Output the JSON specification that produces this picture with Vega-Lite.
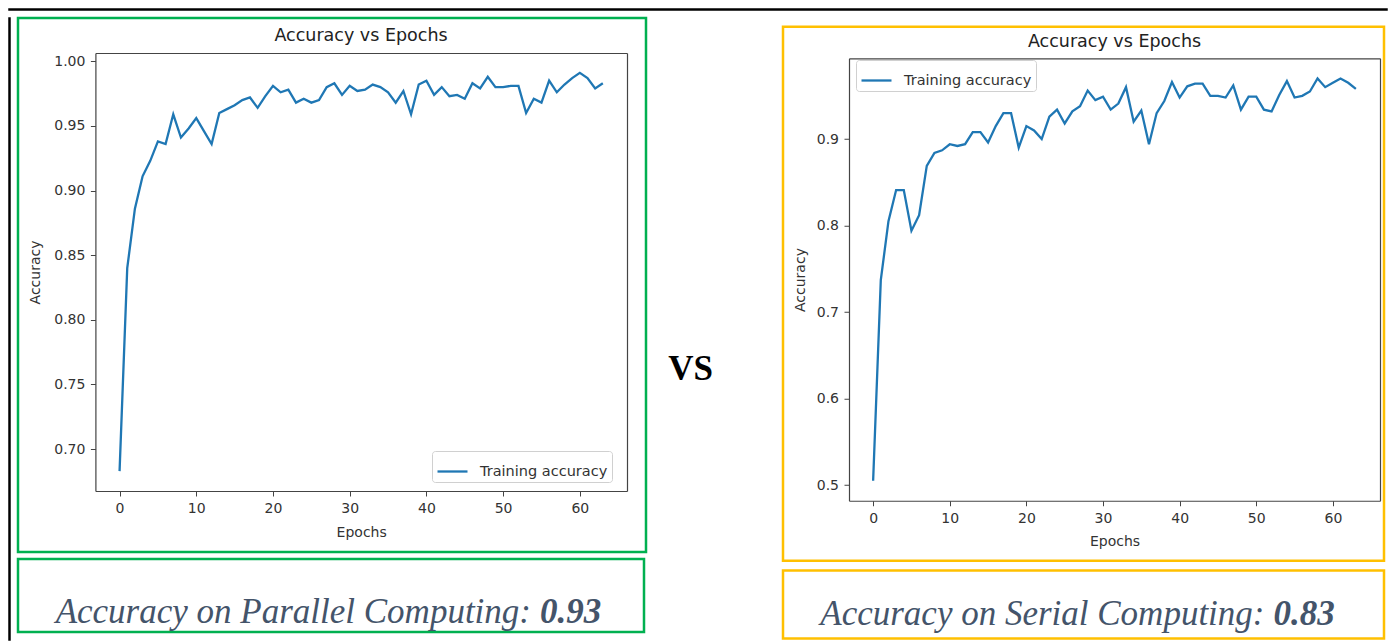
{
  "$schema": "https://vega.github.io/schema/vega-lite/v6.json",
  "background": "white",
  "padding": {"left": 8, "top": 8, "right": 0, "bottom": 0},
  "config": {"view": {"stroke": null}, "font": "DejaVu Sans"},
  "datasets": {
    "parallel": [
      {"epoch": 0, "accuracy": 0.683}, {"epoch": 1, "accuracy": 0.840}, {"epoch": 2, "accuracy": 0.886}, {"epoch": 3, "accuracy": 0.911},
      {"epoch": 4, "accuracy": 0.923}, {"epoch": 5, "accuracy": 0.938}, {"epoch": 6, "accuracy": 0.936}, {"epoch": 7, "accuracy": 0.959},
      {"epoch": 8, "accuracy": 0.941}, {"epoch": 9, "accuracy": 0.948}, {"epoch": 10, "accuracy": 0.956}, {"epoch": 11, "accuracy": 0.946},
      {"epoch": 12, "accuracy": 0.936}, {"epoch": 13, "accuracy": 0.960}, {"epoch": 14, "accuracy": 0.963}, {"epoch": 15, "accuracy": 0.966},
      {"epoch": 16, "accuracy": 0.970}, {"epoch": 17, "accuracy": 0.972}, {"epoch": 18, "accuracy": 0.964}, {"epoch": 19, "accuracy": 0.973},
      {"epoch": 20, "accuracy": 0.981}, {"epoch": 21, "accuracy": 0.976}, {"epoch": 22, "accuracy": 0.978}, {"epoch": 23, "accuracy": 0.968},
      {"epoch": 24, "accuracy": 0.971}, {"epoch": 25, "accuracy": 0.968}, {"epoch": 26, "accuracy": 0.970}, {"epoch": 27, "accuracy": 0.980},
      {"epoch": 28, "accuracy": 0.983}, {"epoch": 29, "accuracy": 0.974}, {"epoch": 30, "accuracy": 0.981}, {"epoch": 31, "accuracy": 0.977},
      {"epoch": 32, "accuracy": 0.978}, {"epoch": 33, "accuracy": 0.982}, {"epoch": 34, "accuracy": 0.980}, {"epoch": 35, "accuracy": 0.976},
      {"epoch": 36, "accuracy": 0.968}, {"epoch": 37, "accuracy": 0.977}, {"epoch": 38, "accuracy": 0.959}, {"epoch": 39, "accuracy": 0.982},
      {"epoch": 40, "accuracy": 0.985}, {"epoch": 41, "accuracy": 0.974}, {"epoch": 42, "accuracy": 0.980}, {"epoch": 43, "accuracy": 0.973},
      {"epoch": 44, "accuracy": 0.974}, {"epoch": 45, "accuracy": 0.971}, {"epoch": 46, "accuracy": 0.983}, {"epoch": 47, "accuracy": 0.979},
      {"epoch": 48, "accuracy": 0.988}, {"epoch": 49, "accuracy": 0.980}, {"epoch": 50, "accuracy": 0.980}, {"epoch": 51, "accuracy": 0.981},
      {"epoch": 52, "accuracy": 0.981}, {"epoch": 53, "accuracy": 0.960}, {"epoch": 54, "accuracy": 0.971}, {"epoch": 55, "accuracy": 0.968},
      {"epoch": 56, "accuracy": 0.985}, {"epoch": 57, "accuracy": 0.976}, {"epoch": 58, "accuracy": 0.982}, {"epoch": 59, "accuracy": 0.987},
      {"epoch": 60, "accuracy": 0.991}, {"epoch": 61, "accuracy": 0.987}, {"epoch": 62, "accuracy": 0.979}, {"epoch": 63, "accuracy": 0.983}
    ],
    "serial": [
      {"epoch": 0, "accuracy": 0.505}, {"epoch": 1, "accuracy": 0.737}, {"epoch": 2, "accuracy": 0.805}, {"epoch": 3, "accuracy": 0.841},
      {"epoch": 4, "accuracy": 0.841}, {"epoch": 5, "accuracy": 0.794}, {"epoch": 6, "accuracy": 0.812}, {"epoch": 7, "accuracy": 0.869},
      {"epoch": 8, "accuracy": 0.884}, {"epoch": 9, "accuracy": 0.887}, {"epoch": 10, "accuracy": 0.894}, {"epoch": 11, "accuracy": 0.892},
      {"epoch": 12, "accuracy": 0.894}, {"epoch": 13, "accuracy": 0.908}, {"epoch": 14, "accuracy": 0.908}, {"epoch": 15, "accuracy": 0.896},
      {"epoch": 16, "accuracy": 0.915}, {"epoch": 17, "accuracy": 0.930}, {"epoch": 18, "accuracy": 0.930}, {"epoch": 19, "accuracy": 0.890},
      {"epoch": 20, "accuracy": 0.915}, {"epoch": 21, "accuracy": 0.910}, {"epoch": 22, "accuracy": 0.900}, {"epoch": 23, "accuracy": 0.926},
      {"epoch": 24, "accuracy": 0.934}, {"epoch": 25, "accuracy": 0.918}, {"epoch": 26, "accuracy": 0.932}, {"epoch": 27, "accuracy": 0.938},
      {"epoch": 28, "accuracy": 0.956}, {"epoch": 29, "accuracy": 0.945}, {"epoch": 30, "accuracy": 0.949}, {"epoch": 31, "accuracy": 0.934},
      {"epoch": 32, "accuracy": 0.941}, {"epoch": 33, "accuracy": 0.960}, {"epoch": 34, "accuracy": 0.920}, {"epoch": 35, "accuracy": 0.933},
      {"epoch": 36, "accuracy": 0.894}, {"epoch": 37, "accuracy": 0.930}, {"epoch": 38, "accuracy": 0.944}, {"epoch": 39, "accuracy": 0.966},
      {"epoch": 40, "accuracy": 0.948}, {"epoch": 41, "accuracy": 0.961}, {"epoch": 42, "accuracy": 0.964}, {"epoch": 43, "accuracy": 0.964},
      {"epoch": 44, "accuracy": 0.950}, {"epoch": 45, "accuracy": 0.950}, {"epoch": 46, "accuracy": 0.948}, {"epoch": 47, "accuracy": 0.962},
      {"epoch": 48, "accuracy": 0.934}, {"epoch": 49, "accuracy": 0.949}, {"epoch": 50, "accuracy": 0.949}, {"epoch": 51, "accuracy": 0.934},
      {"epoch": 52, "accuracy": 0.932}, {"epoch": 53, "accuracy": 0.951}, {"epoch": 54, "accuracy": 0.967}, {"epoch": 55, "accuracy": 0.948},
      {"epoch": 56, "accuracy": 0.950}, {"epoch": 57, "accuracy": 0.955}, {"epoch": 58, "accuracy": 0.970}, {"epoch": 59, "accuracy": 0.960},
      {"epoch": 60, "accuracy": 0.965}, {"epoch": 61, "accuracy": 0.970}, {"epoch": 62, "accuracy": 0.965}, {"epoch": 63, "accuracy": 0.958}
    ]
  },
  "resolve": {"scale": {"color": "independent"}, "legend": {"color": "independent"}},
  "vconcat": [
    {
      "width": 1378, "height": 1,
      "view": {"stroke": "#000000", "strokeWidth": 1.5},
      "data": {"values": []},
      "mark": "point"
    },
    {
      "resolve": {"scale": {"color": "independent"}, "legend": {"color": "independent"}},
      "hconcat": [
        {
          "width": 1, "height": 622,
          "view": {"stroke": "#000000", "strokeWidth": 1.5},
          "data": {"values": []},
          "mark": "point"
        },
        {
          "vconcat": [
            {
              "width": 628, "height": 534,
              "view": {"stroke": "#00b050", "strokeWidth": 2.5},
              "title": {"text": "Accuracy vs Epochs", "font": "DejaVu Sans", "fontSize": 17.5, "fontWeight": "normal", "color": "#222222", "anchor": "middle", "frame": "group", "offset": -26, "dx": 29},
              "data": {"name": "parallel"},
              "layer": [
                {
                  "mark": {"type": "line", "strokeWidth": 2.3},
                  "encoding": {
                    "x": {"field": "epoch", "type": "quantitative",
                      "scale": {"domain": [-3.15, 66.15], "range": [77.4, 609], "nice": false, "zero": false},
                      "axis": {"orient": "bottom", "offset": -61, "values": [0, 10, 20, 30, 40, 50, 60], "title": "Epochs", "grid": false,
                        "tickSize": 5, "tickColor": "#444444", "domainColor": "#444444", "domainWidth": 1.2, "labelFlush": false,
                        "labelFont": "DejaVu Sans", "labelFontSize": 14, "labelColor": "#333333", "labelPadding": 5.5,
                        "titleFont": "DejaVu Sans", "titleFontSize": 14, "titleFontWeight": "normal", "titleColor": "#333333", "titlePadding": 9.5}},
                    "y": {"field": "accuracy", "type": "quantitative",
                      "scale": {"domain": [0.6676, 1.0064], "range": [473, 35], "nice": false, "zero": false},
                      "axis": {"orient": "left", "offset": -77.4, "values": [0.7, 0.75, 0.8, 0.85, 0.9, 0.95, 1.0], "format": ".2f", "title": "Accuracy", "grid": false,
                        "tickSize": 5, "tickColor": "#444444", "domainColor": "#444444", "domainWidth": 1.2, "labelFlush": false,
                        "labelFont": "DejaVu Sans", "labelFontSize": 14, "labelColor": "#333333", "labelPadding": 5.5,
                        "titleFont": "DejaVu Sans", "titleFontSize": 14, "titleFontWeight": "normal", "titleColor": "#333333", "titlePadding": 11}},
                    "color": {"datum": "Training accuracy", "type": "nominal",
                      "scale": {"range": ["#1f77b4"]},
                      "legend": {"orient": "none", "legendX": 414, "legendY": 433, "title": null, "symbolType": "stroke", "symbolSize": 900,
                        "symbolStrokeWidth": 2.3, "labelFont": "DejaVu Sans", "labelFontSize": 14.5, "labelColor": "#333333", "labelOffset": 11,
                        "padding": 4, "strokeColor": "#d0d0d0", "fillColor": "white", "cornerRadius": 3}}
                  }
                },
                {
                  "mark": {"type": "line", "opacity": 0},
                  "encoding": {
                    "x": {"field": "epoch", "type": "quantitative",
                      "scale": {"domain": [-3.15, 66.15], "range": [77.4, 609], "nice": false, "zero": false},
                      "axis": {"orient": "top", "offset": -35, "labels": false, "ticks": false, "title": null, "grid": false, "domainColor": "#444444", "domainWidth": 1.2}},
                    "y": {"field": "accuracy", "type": "quantitative",
                      "scale": {"domain": [0.6676, 1.0064], "range": [473, 35], "nice": false, "zero": false},
                      "axis": {"orient": "right", "offset": -19, "labels": false, "ticks": false, "title": null, "grid": false, "domainColor": "#444444", "domainWidth": 1.2}}
                  }
                }
              ],
              "resolve": {"axis": {"x": "independent", "y": "independent"}}
            },
            {
              "width": 626, "height": 73,
              "view": {"stroke": "#00b050", "strokeWidth": 2.5},
              "data": {"values": [{"label": "Accuracy on Parallel Computing:", "value": "0.93"}]},
              "layer": [
                {"mark": {"type": "text", "font": "Liberation Serif", "fontStyle": "italic", "fontSize": 35, "color": "#44546a", "align": "right", "baseline": "alphabetic", "dx": 200, "dy": 27},
                 "encoding": {"text": {"field": "label"}}},
                {"mark": {"type": "text", "font": "Liberation Serif", "fontStyle": "italic", "fontWeight": "bold", "fontSize": 35, "color": "#44546a", "align": "left", "baseline": "alphabetic", "dx": 209, "dy": 27},
                 "encoding": {"text": {"field": "value"}}}
              ]
            }
          ],
          "spacing": 3
        },
        {
          "width": 123, "height": 534,
          "data": {"values": [{"t": "VS"}]},
          "mark": {"type": "text", "font": "Liberation Serif", "fontWeight": "bold", "fontSize": 35, "color": "#000000", "align": "center", "baseline": "alphabetic", "dx": -24, "dy": 95},
          "encoding": {"text": {"field": "t"}}
        },
        {
          "vconcat": [
            {"width": 601, "height": 1, "data": {"values": []}, "mark": "point"},
            {
              "width": 601, "height": 534,
              "view": {"stroke": "#ffc000", "strokeWidth": 2.5},
              "title": {"text": "Accuracy vs Epochs", "font": "DejaVu Sans", "fontSize": 17.5, "fontWeight": "normal", "color": "#222222", "anchor": "middle", "frame": "group", "offset": -24, "dx": 31},
              "data": {"name": "serial"},
              "layer": [
                {
                  "mark": {"type": "line", "strokeWidth": 2.3},
                  "encoding": {
                    "x": {"field": "epoch", "type": "quantitative",
                      "scale": {"domain": [-3.15, 66.15], "range": [66, 597], "nice": false, "zero": false},
                      "axis": {"orient": "bottom", "offset": -60, "values": [0, 10, 20, 30, 40, 50, 60], "title": "Epochs", "grid": false,
                        "tickSize": 5, "tickColor": "#444444", "domainColor": "#444444", "domainWidth": 1.2, "labelFlush": false,
                        "labelFont": "DejaVu Sans", "labelFontSize": 14, "labelColor": "#333333", "labelPadding": 5.5,
                        "titleFont": "DejaVu Sans", "titleFontSize": 14, "titleFontWeight": "normal", "titleColor": "#333333", "titlePadding": 9.5}},
                    "y": {"field": "accuracy", "type": "quantitative",
                      "scale": {"domain": [0.4818, 0.9933], "range": [474, 31.6], "nice": false, "zero": false},
                      "axis": {"orient": "left", "offset": -66, "values": [0.5, 0.6, 0.7, 0.8, 0.9], "format": ".1f", "title": "Accuracy", "grid": false,
                        "tickSize": 5, "tickColor": "#444444", "domainColor": "#444444", "domainWidth": 1.2, "labelFlush": false,
                        "labelFont": "DejaVu Sans", "labelFontSize": 14, "labelColor": "#333333", "labelPadding": 5.5,
                        "titleFont": "DejaVu Sans", "titleFontSize": 14, "titleFontWeight": "normal", "titleColor": "#333333", "titlePadding": 9}},
                    "color": {"datum": "Training accuracy", "type": "nominal",
                      "scale": {"range": ["#1f77b4"]},
                      "legend": {"orient": "none", "legendX": 73, "legendY": 42, "title": null, "symbolType": "stroke", "symbolSize": 900,
                        "symbolStrokeWidth": 2.3, "labelFont": "DejaVu Sans", "labelFontSize": 14.5, "labelColor": "#333333", "labelOffset": 11,
                        "padding": 4, "strokeColor": "#d0d0d0", "fillColor": "white", "cornerRadius": 3}}
                  }
                },
                {
                  "mark": {"type": "line", "opacity": 0},
                  "encoding": {
                    "x": {"field": "epoch", "type": "quantitative",
                      "scale": {"domain": [-3.15, 66.15], "range": [66, 597], "nice": false, "zero": false},
                      "axis": {"orient": "top", "offset": -31.6, "labels": false, "ticks": false, "title": null, "grid": false, "domainColor": "#444444", "domainWidth": 1.2}},
                    "y": {"field": "accuracy", "type": "quantitative",
                      "scale": {"domain": [0.4818, 0.9933], "range": [474, 31.6], "nice": false, "zero": false},
                      "axis": {"orient": "right", "offset": -4, "labels": false, "ticks": false, "title": null, "grid": false, "domainColor": "#444444", "domainWidth": 1.2}}
                  }
                }
              ],
              "resolve": {"axis": {"x": "independent", "y": "independent"}}
            },
            {
              "width": 601, "height": 68,
              "view": {"stroke": "#ffc000", "strokeWidth": 2.5},
              "data": {"values": [{"label": "Accuracy on Serial Computing:", "value": "0.83"}]},
              "layer": [
                {"mark": {"type": "text", "font": "Liberation Serif", "fontStyle": "italic", "fontSize": 35, "color": "#44546a", "align": "right", "baseline": "alphabetic", "dx": 181, "dy": 20},
                 "encoding": {"text": {"field": "label"}}},
                {"mark": {"type": "text", "font": "Liberation Serif", "fontStyle": "italic", "fontWeight": "bold", "fontSize": 35, "color": "#44546a", "align": "left", "baseline": "alphabetic", "dx": 190, "dy": 20},
                 "encoding": {"text": {"field": "value"}}}
              ]
            }
          ],
          "spacing": 5.75
        }
      ],
      "spacing": 5
    }
  ],
  "spacing": 5
}
